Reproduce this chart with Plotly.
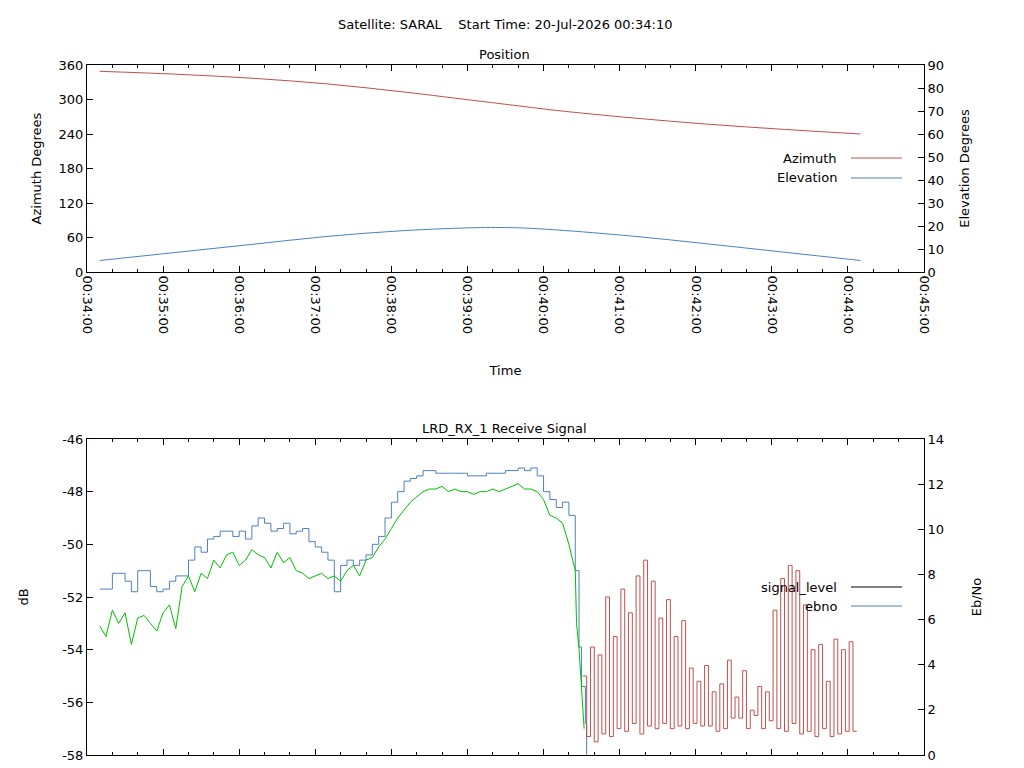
import pandas as pd
import plotly.graph_objects as go

# ---------------- data ----------------
DAY = "2026-07-20 "

pos_times = ["00:34:10", "00:35:10", "00:36:10", "00:37:10", "00:38:10", "00:39:10",
             "00:39:40", "00:40:10", "00:41:10", "00:42:10", "00:43:10", "00:44:10"]
azimuth = [349, 344, 337, 327, 313, 297, 289, 281, 268, 257, 248, 240]
elevation = [5.0, 8.5, 12.0, 15.5, 18.0, 19.3, 19.2, 18.3, 15.6, 12.2, 8.6, 5.0]

# signal samples every 5 s from 00:34:10
sig_start, sig_step = "00:34:10", 5
signal_db = [-51.7, -51.7, -51.1, -51.1, -51.4, -51.8, -51.0, -51.0, -51.6, -51.8,
             -51.7, -51.4, -51.2, -51.2, -50.6, -50.1, -50.3, -49.8, -49.7, -49.5,
             -49.5, -49.7, -49.5, -49.8, -49.3, -49.0, -49.2, -49.5, -49.4, -49.2,
             -49.6, -49.5, -49.4, -49.9, -50.1, -50.3, -50.6, -51.8, -50.8, -50.6,
             -50.8, -50.6, -50.4, -50.0, -49.7, -49.0, -48.4, -48.0, -47.6, -47.5,
             -47.4, -47.2, -47.2, -47.3, -47.3, -47.3, -47.3, -47.3, -47.4, -47.4,
             -47.4, -47.3, -47.3, -47.3, -47.2, -47.2, -47.1, -47.2, -47.1, -47.4,
             -48.0, -48.3, -48.6, -48.4, -48.9, -51.0]
signal_tail_times = ["00:40:28", "00:40:30", "00:40:33", "00:40:34"]
signal_tail = [-53.9, -55.4, -56.8, -58.0]

ebno_db = [-53.1, -53.5, -52.5, -53.0, -52.6, -53.8, -52.8, -52.7, -53.0, -53.3,
           -52.6, -52.3, -53.2, -51.6, -51.2, -51.8, -51.1, -51.3, -50.6, -50.9,
           -50.4, -50.3, -50.8, -50.6, -50.2, -50.4, -50.5, -50.9, -50.3, -50.7,
           -50.5, -51.0, -51.1, -51.3, -51.2, -51.1, -51.3, -51.2, -51.4, -51.0,
           -50.8, -51.2, -50.6, -50.5, -50.1, -49.8, -49.4, -49.0, -48.7, -48.4,
           -48.2, -48.0, -47.9, -47.9, -47.8, -48.0, -47.9, -48.0, -48.0, -48.1,
           -48.0, -48.0, -47.9, -48.0, -47.9, -47.8, -47.7, -47.9, -47.9, -48.0,
           -48.3, -48.9, -49.0, -49.2, -50.0, -51.0]
ebno_tail_times = ["00:40:26", "00:40:28", "00:40:30", "00:40:32"]
ebno_tail = [-53.0, -54.0, -55.5, -57.0]

# low-signal ebno samples every 3 s from 00:40:31
low_start, low_step = "00:40:31", 3
ebno_low = [-55.0, -57.3, -53.9, -57.5, -54.2, -57.2, -52.0, -57.3, -53.5, -57.0,
            -51.7, -57.1, -52.6, -56.8, -51.2, -57.2, -50.6, -56.9, -51.4, -57.0,
            -52.8, -56.8, -52.1, -57.0, -53.5, -56.9, -52.9, -57.0, -54.7, -56.8,
            -55.2, -56.9, -54.6, -56.9, -55.6, -57.1, -55.3, -57.0, -54.4, -56.6,
            -55.8, -56.6, -54.8, -57.0, -56.3, -56.5, -55.4, -57.0, -55.6, -56.7,
            -52.5, -57.0, -51.3, -57.1, -50.8, -56.8, -51.0, -57.2, -52.3, -57.1,
            -54.0, -57.3, -53.8, -57.0, -55.2, -57.3, -53.6, -57.2, -54.0, -57.1,
            -53.7, -57.1, -57.1]

db_ticks = [-58, -56, -54, -52, -50, -48, -46]

# ---------------- helpers ----------------
RED, BLUE, GREEN = "#c0504d", "#4f81bd", "#00c000"
FONT = "DejaVu Sans"
FS = 13


def t(s):
    return pd.Timestamp(DAY + s)


def series_times(start, step, n):
    return [t(start) + pd.Timedelta(seconds=step * i) for i in range(n)]


sig_x = series_times(sig_start, sig_step, len(signal_db)) + [t(s) for s in signal_tail_times]
ebno_x = series_times(sig_start, sig_step, len(ebno_db)) + [t(s) for s in ebno_tail_times]
low_x = series_times(low_start, low_step, len(ebno_low))

fig = go.Figure()
fig.add_trace(go.Scatter(x=[t(s) for s in pos_times], y=azimuth, mode="lines",
                         line=dict(color=RED, width=1, shape="spline"), xaxis="x", yaxis="y"))
fig.add_trace(go.Scatter(x=[t(s) for s in pos_times], y=elevation, mode="lines",
                         line=dict(color=BLUE, width=1, shape="spline"), xaxis="x", yaxis="y2"))
fig.add_trace(go.Scatter(x=sig_x, y=signal_db + signal_tail, mode="lines",
                         line=dict(color=BLUE, width=1, shape="hv"), xaxis="x2", yaxis="y3"))
fig.add_trace(go.Scatter(x=ebno_x, y=ebno_db + ebno_tail, mode="lines",
                         line=dict(color=GREEN, width=1), xaxis="x2", yaxis="y3"))
fig.add_trace(go.Scatter(x=low_x, y=ebno_low, mode="lines",
                         line=dict(color=RED, width=1, shape="hv"), xaxis="x2", yaxis="y3"))
fig.add_trace(go.Scatter(x=[None], y=[None], xaxis="x2", yaxis="y4"))

xr = [t("00:34:00"), t("00:45:00")]
xd = [79 / 1024, 916 / 1024]
top_d = [(768 - 264) / 768, (768 - 57) / 768]
bot_d = [(768 - 747) / 768, (768 - 431) / 768]

axis_common = dict(showline=True, linecolor="black", linewidth=1, ticks="inside",
                   tickcolor="black", ticklen=6, showgrid=False, zeroline=False,
                   automargin=False, tickfont=dict(size=FS, color="black"),
                   title_font=dict(size=FS))
xcommon = dict(axis_common, range=xr, domain=xd, dtick=60000, tick0=xr[0],
               tickformat="%H:%M:%S", mirror="ticks",
               minor=dict(dtick=20000, ticks="inside", ticklen=3, tickcolor="black"))

fig.update_layout(
    width=1024, height=768, margin=dict(l=0, r=0, t=0, b=0),
    paper_bgcolor="white", plot_bgcolor="white", showlegend=False,
    font=dict(family=FONT, size=FS, color="black"),
    xaxis=dict(xcommon, anchor="y", tickangle=90, title=dict(text="Time", standoff=32)),
    yaxis=dict(axis_common, domain=top_d, range=[0, 360], dtick=60, anchor="x",
               title=dict(text="Azimuth Degrees", standoff=14)),
    yaxis2=dict(axis_common, domain=top_d, range=[0, 90], dtick=10, overlaying="y",
                side="right", anchor="x", title=dict(text="Elevation Degrees", standoff=16)),
    xaxis2=dict(xcommon, anchor="y3", showticklabels=False),
    yaxis3=dict(axis_common, domain=bot_d, range=[-58, -46], tickvals=db_ticks,
                ticktext=[str(v) for v in db_ticks], anchor="x2",
                title=dict(text="dB", standoff=30)),
    yaxis4=dict(axis_common, domain=bot_d, range=[0, 14], dtick=2, overlaying="y3",
                side="right", anchor="x2", title=dict(text="Eb/No", standoff=28)),
)

# titles
for txt, y in [("Satellite: SARAL&nbsp;&nbsp;&nbsp;&nbsp;Start Time: 20-Jul-2026 00:34:10", 17),
               ("Position", 46), ("LRD_RX_1 Receive Signal", 420)]:
    fig.add_annotation(text=txt, x=0.485, y=1 - y / 768,
                       xref="paper", yref="paper", showarrow=False,
                       font=dict(size=FS), xanchor="center", yanchor="middle")

# gnuplot-style keys
for label, color, y in [("Azimuth", RED, 150), ("Elevation", BLUE, 170),
                        ("signal_level", "black", 579), ("ebno", BLUE, 598)]:
    fig.add_annotation(text=label, x=831 / 1024, y=1 - y / 768, xref="paper", yref="paper",
                       showarrow=False, xanchor="right", yanchor="middle", font=dict(size=FS))
    fig.add_shape(type="line", xref="paper", yref="paper", x0=843 / 1024, x1=894 / 1024,
                  y0=1 - y / 768, y1=1 - y / 768, line=dict(color=color, width=1))

fig.write_html("out.html")
